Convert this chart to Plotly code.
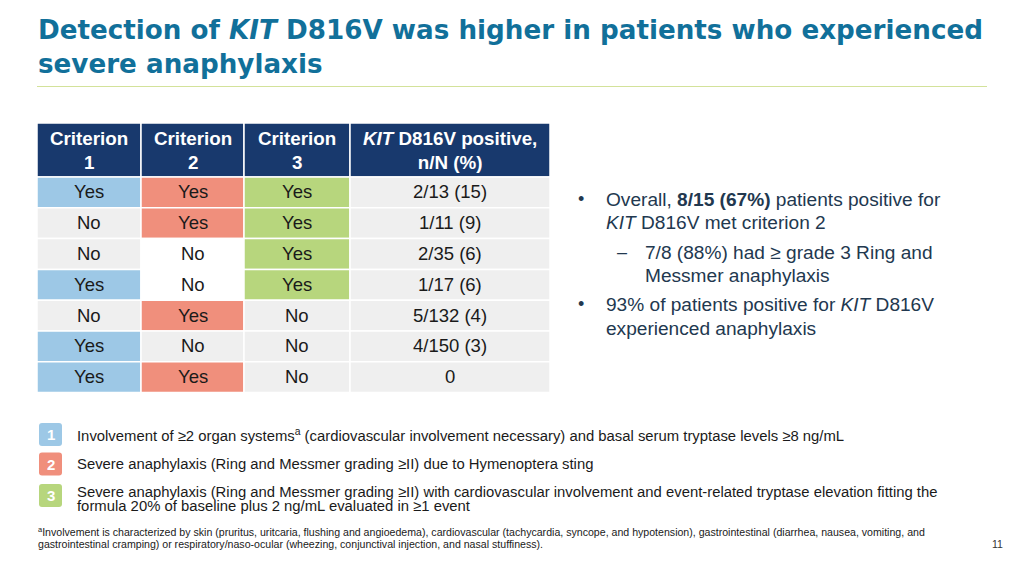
import plotly.graph_objects as go

# ---------------- data ----------------
title_lines = ["Detection of <i>KIT</i> D816V was higher in patients who experienced",
               "severe anaphylaxis"]

headers = ["Criterion<br>1", "Criterion<br>2", "Criterion<br>3",
           "<i>KIT</i> D816V positive,<br>n/N (%)"]
criterion_1 = ["Yes", "No", "No", "Yes", "No", "Yes", "Yes"]
criterion_2 = ["Yes", "Yes", "No", "No", "Yes", "No", "Yes"]
criterion_3 = ["Yes", "Yes", "Yes", "Yes", "No", "No", "No"]
kit_positive = ["2/13 (15)", "1/11 (9)", "2/35 (6)", "1/17 (6)", "5/132 (4)", "4/150 (3)", "0"]

bullet_points = [
    ("•", "Overall, <b>8/15 (67%)</b> patients positive for<br><i>KIT</i> D816V met criterion 2"),
    ("–", "7/8 (88%) had ≥ grade 3 Ring and<br>Messmer anaphylaxis"),
    ("•", "93% of patients positive for <i>KIT</i> D816V<br>experienced anaphylaxis"),
]

criteria_numbers = ["1", "2", "3"]
criteria_text = [
    ["Involvement of ≥2 organ systems<sup>a</sup> (cardiovascular involvement necessary) and basal serum tryptase levels ≥8 ng/mL"],
    ["Severe anaphylaxis (Ring and Messmer grading ≥II) due to Hymenoptera sting"],
    ["Severe anaphylaxis (Ring and Messmer grading ≥II) with cardiovascular involvement and event-related tryptase elevation fitting the",
     "formula 20% of baseline plus 2 ng/mL evaluated in ≥1 event"],
]

footnote_lines = [
    "<sup>a</sup>Involvement is characterized by skin (pruritus, uritcaria, flushing and angioedema), cardiovascular (tachycardia, syncope, and hypotension), gastrointestinal (diarrhea, nausea, vomiting, and",
    "gastrointestinal cramping) or respiratory/naso-ocular (wheezing, conjunctival injection, and nasal stuffiness).",
]
page_number = "11"

# ---------------- styles / layout ----------------
FONT = "Liberation Sans, Arial, sans-serif"
TITLE_FONT = "DejaVu Sans, sans-serif"
TITLE_COLOR = "#11709A"
NAVY = "#18396D"
CRIT_COLORS = ["#9DC8E6", "#F08F7C", "#B7D67D"]
GRAY = "#EFEFEF"
WHITE_NO_CELLS = {(2, 1), (3, 1)}  # (row, col) drawn white instead of gray
BODY_TEXT = "#1A1A1A"
BULLET_TEXT = "#22384F"

col_edges = [37, 141, 244, 350, 550]
header_top, header_bottom = 123, 177
row_h = 30.8

fig = go.Figure()
shapes = []
ann = []

# title
for i, t in enumerate(title_lines):
    ann.append(dict(x=36, y=30 + 34 * i, text=t, xanchor="left", yanchor="middle", showarrow=False,
                    font=dict(family=TITLE_FONT, size=26.2, color=TITLE_COLOR, weight="bold")))
shapes.append(dict(type="line", x0=37, x1=987, y0=86.5, y1=86.5, line=dict(color="#D3E29A", width=1.2)))

# table header
for c, h in enumerate(headers):
    x0, x1 = col_edges[c], col_edges[c + 1]
    shapes.append(dict(type="rect", x0=x0, x1=x1, y0=header_top, y1=header_bottom,
                       fillcolor=NAVY, line=dict(color="white", width=1.5), layer="below"))
    ann.append(dict(x=(x0 + x1) / 2, y=(header_top + header_bottom) / 2, text=h, showarrow=False,
                    xanchor="center", yanchor="middle",
                    font=dict(family=FONT, size=18.8, color="white", weight="bold")))

# table body
columns = [criterion_1, criterion_2, criterion_3, kit_positive]
for c, col in enumerate(columns):
    x0, x1 = col_edges[c], col_edges[c + 1]
    for r, val in enumerate(col):
        y0 = header_bottom + r * row_h
        y1 = y0 + row_h
        if c < 3 and val == "Yes":
            fill = CRIT_COLORS[c]
        elif (r, c) in WHITE_NO_CELLS:
            fill = "white"
        else:
            fill = GRAY
        shapes.append(dict(type="rect", x0=x0, x1=x1, y0=y0, y1=y1, fillcolor=fill,
                           line=dict(color="white", width=1.5), layer="below"))
        ann.append(dict(x=(x0 + x1) / 2, y=(y0 + y1) / 2 - 0.5, text=val, showarrow=False,
                        xanchor="center", yanchor="middle",
                        font=dict(family=FONT, size=18.5, color=BODY_TEXT)))

# bullets
bullet_x = [581, 622, 581]
text_x = [604, 643, 604]
line_ys = [[199, 222], [252, 275], [304, 328]]
for i, (sym, txt) in enumerate(bullet_points):
    ann.append(dict(x=bullet_x[i], y=line_ys[i][0], text=sym, showarrow=False, xanchor="center",
                    yanchor="middle", font=dict(family=FONT, size=18, color=BULLET_TEXT)))
    for j, part in enumerate(txt.split("<br>")):
        ann.append(dict(x=text_x[i], y=line_ys[i][j], text=part, showarrow=False, xanchor="left",
                        yanchor="middle", align="left",
                        font=dict(family=FONT, size=19.1, color=BULLET_TEXT)))

# criteria legend
badge_y = [(423, 446), (452.5, 475.5), (484, 507)]
line_y = [[435], [464], [492, 506]]
for i, num in enumerate(criteria_numbers):
    x0, x1 = 39, 62
    y0, y1 = badge_y[i]
    rad = 3
    path = (f"M{x0+rad},{y0} L{x1-rad},{y0} Q{x1},{y0} {x1},{y0+rad} L{x1},{y1-rad} Q{x1},{y1} {x1-rad},{y1} "
            f"L{x0+rad},{y1} Q{x0},{y1} {x0},{y1-rad} L{x0},{y0+rad} Q{x0},{y0} {x0+rad},{y0} Z")
    shapes.append(dict(type="path", path=path, fillcolor=CRIT_COLORS[i], line=dict(width=0)))
    ann.append(dict(x=(x0 + x1) / 2, y=(y0 + y1) / 2, text=num, showarrow=False, xanchor="center",
                    yanchor="middle", font=dict(family=FONT, size=15, color="white", weight="bold")))
    for j, t in enumerate(criteria_text[i]):
        ann.append(dict(x=75, y=line_y[i][j], text=t, showarrow=False, xanchor="left", yanchor="middle",
                        font=dict(family=FONT, size=14.85, color=BODY_TEXT)))

# footnote
for j, t in enumerate(footnote_lines):
    ann.append(dict(x=36, y=531 + 13 * j, text=t, showarrow=False, xanchor="left", yanchor="middle",
                    font=dict(family=FONT, size=10.6, color=BODY_TEXT)))
ann.append(dict(x=997, y=544, text=page_number, showarrow=False, xanchor="center", yanchor="middle",
                font=dict(family=FONT, size=10.5, color="#333333")))

fig.update_layout(
    width=1024, height=576,
    margin=dict(l=0, r=0, t=0, b=0),
    paper_bgcolor="white", plot_bgcolor="white",
    xaxis=dict(range=[0, 1024], visible=False, fixedrange=True),
    yaxis=dict(range=[576, 0], visible=False, fixedrange=True),
    shapes=shapes, annotations=ann, showlegend=False,
)
fig.write_html("out.html", config={"displayModeBar": False},
               post_script="document.body.style.margin='0px';document.body.style.overflow='hidden';")
